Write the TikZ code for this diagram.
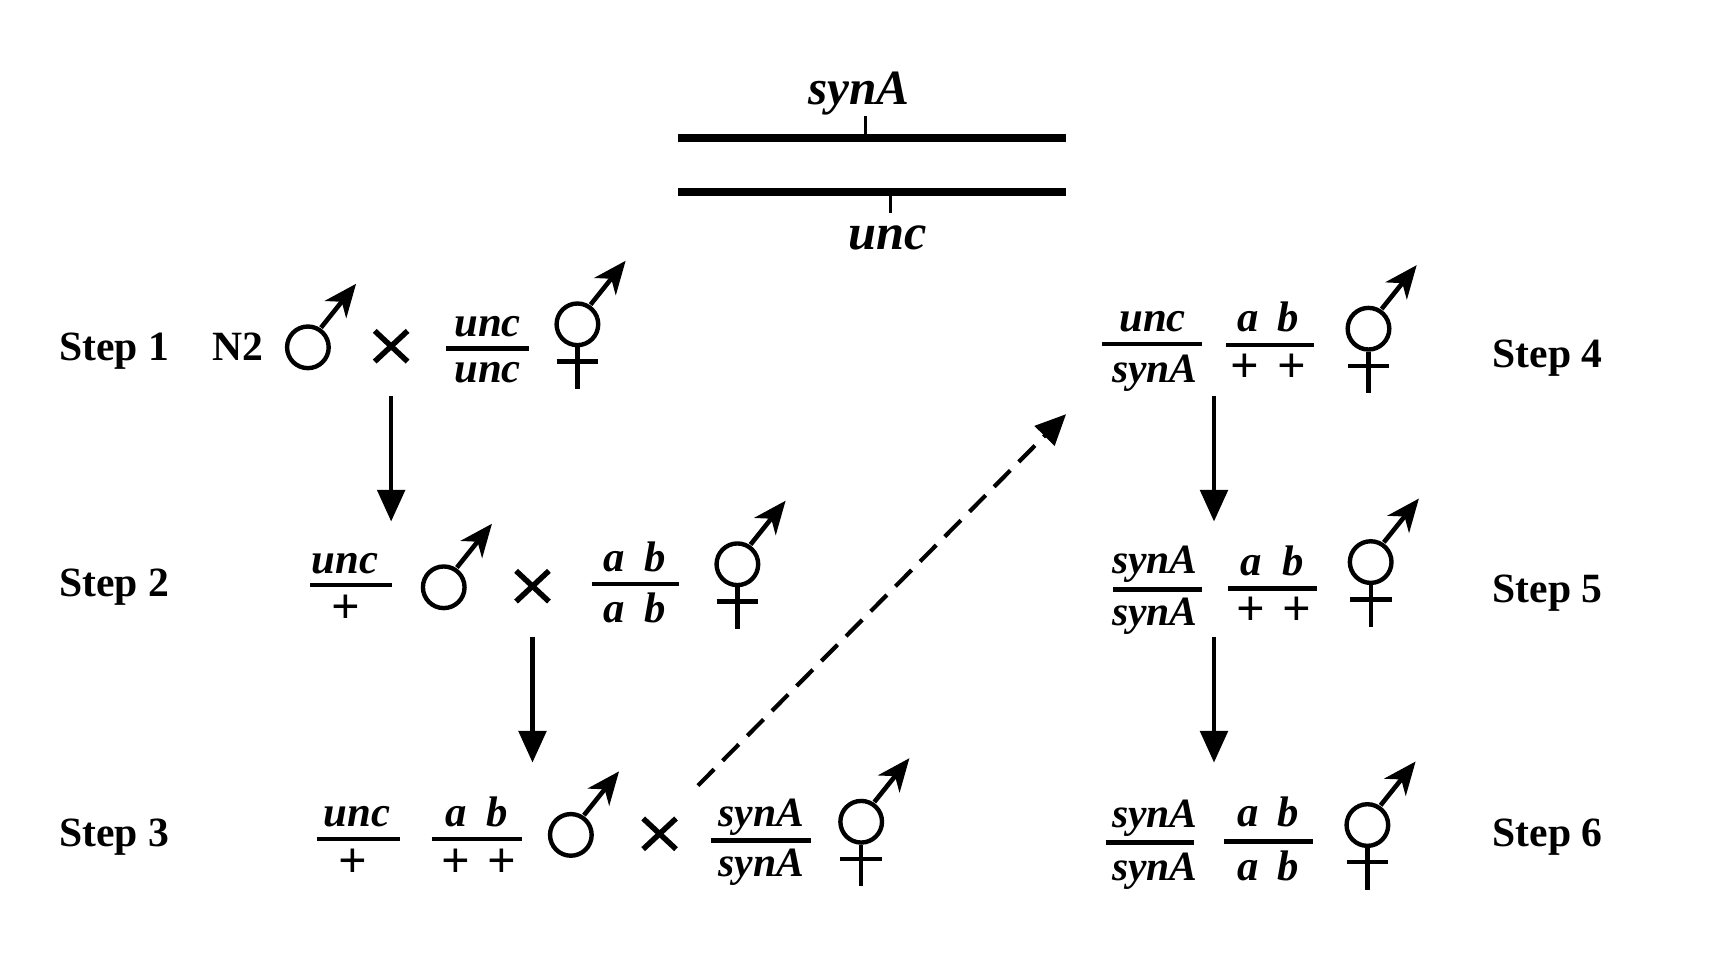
\documentclass[tikz,border=0pt]{standalone}
\usepackage{fontspec}
\setmainfont{Liberation Serif}
\usetikzlibrary{arrows.meta}
\tikzset{
  gene/.style={font=\fontsize{39}{41}\selectfont\bfseries\itshape,anchor=base,inner sep=0pt,text=black},
  genesyn/.style={font=\fontsize{38}{40}\selectfont\bfseries\itshape,anchor=base,inner sep=0pt,text=black},
  bigene/.style={font=\fontsize{46}{48}\selectfont\bfseries\itshape,anchor=base,inner sep=0pt,text=black},
  bigsyn/.style={font=\fontsize{45}{47}\selectfont\bfseries\itshape,anchor=base,inner sep=0pt,text=black},
  plusn/.style={font=\fontsize{46}{48}\selectfont\bfseries,anchor=base,inner sep=0pt,text=black},
  steplabel/.style={font=\fontsize{38}{40}\selectfont\bfseries,anchor=base west,inner sep=0pt,text=black},
  bar/.style={line width=4pt},
  chrom/.style={line width=7pt},
  locus/.style={line width=3pt},
  ring/.style={circle,draw,line width=4pt,minimum size=38pt,inner sep=0pt},
  sexarrow/.style={line width=4.2pt,-{Stealth[length=30pt,width=25pt,inset=9pt]}},
  sexline/.style={line width=4pt},
  crossline/.style={line width=5pt},
  flow/.style={line width=4.2pt,-{Triangle[length=29pt,width=25pt]}},
  dashflow/.style={line width=3.8pt,dash pattern=on 21pt off 11pt,-{Triangle[length=28pt,width=25pt]}},
}
\newcommand{\malesym}[3]{%
  \node[ring] (#1) at (#2,#3) {};
  \coordinate (#1tip) at ({#2+44},{#3-58});
  \coordinate (#1st) at ({#2+12},{#3-18});
  \draw[sexarrow] (#1st) -- (#1tip);
}
\newcommand{\hermsym}[3]{%
  \malesym{#1}{#2}{#3}
  \coordinate (#1end) at (#2,{#3+59});
  \draw[sexline] (#1.south) -- (#1end);
  \draw[sexline] ({#2-19},{#3+34}) -- ({#2+19},{#3+34});
}
\newcommand{\crosssym}[2]{%
  \draw[crossline] ({#1-15},{#2-14}) -- ({#1+15},{#2+14});
  \draw[crossline] ({#1-15},{#2+14}) -- ({#1+15},{#2-14});
}
\begin{document}
\begin{tikzpicture}[x=1pt,y=-1pt]
\useasboundingbox (0,0) rectangle (1568,885.2);
% chromosomes
\draw[chrom] (619,126) -- (973,126);
\draw[chrom] (619,175) -- (973,175);
\draw[locus] (790,106) -- (790,126);
\draw[locus] (813,175) -- (813,194);
\node[bigsyn] (lsyn) at (784,95) {synA};
\node[bigene] (lunc) at (810,228) {unc};
% step labels
\node[steplabel] (s1) at (54,329) {Step 1};
\node[steplabel] (s2) at (54,544) {Step 2};
\node[steplabel] (s3) at (54,773) {Step 3};
\node[steplabel] (s4) at (1362,335) {Step 4};
\node[steplabel] (s5) at (1362,550) {Step 5};
\node[steplabel] (s6) at (1362,773) {Step 6};
% step 1
\node[steplabel] (n2) at (194,329) {N2};
\malesym{ma}{281}{317}
\crosssym{357}{316}
\draw[bar] (407,318) -- (483,318);
\node[gene] (a1) at (445,307) {unc};
\node[gene] (a2) at (445,349) {unc};
\hermsym{ha}{527}{296}
% step 2
\draw[bar] (283,534) -- (358,534);
\node[gene] (b1) at (315,523) {unc};
\node[plusn] (b2) at (316,569) {+};
\malesym{mb}{405}{536}
\crosssym{486}{535}
\draw[bar] (540,533) -- (620,533);
\node[gene] (b3) at (561,522) {a};
\node[gene] (b4) at (598,522) {b};
\node[gene] (b5) at (561,568) {a};
\node[gene] (b6) at (598,568) {b};
\hermsym{hb}{673}{515}
% step 3
\draw[bar] (289,766) -- (365,766);
\node[gene] (c1) at (326,754) {unc};
\node[plusn] (c2) at (322,801) {+};
\draw[bar] (394,766) -- (476,766);
\node[gene] (c3) at (416,754) {a};
\node[gene] (c4) at (454,754) {b};
\node[plusn] (c5) at (416,801) {+};
\node[plusn] (c6) at (458,801) {+};
\malesym{mc}{521}{762}
\crosssym{602}{761}
\draw[bar] (649,767) -- (740,767);
\node[genesyn] (c7) at (695,754) {synA};
\node[genesyn] (c8) at (695,800) {synA};
\hermsym{hc}{786}{750}
% step 4
\draw[bar] (1006,314) -- (1097,314);
\node[gene] (d1) at (1052,303) {unc};
\node[genesyn] (d2) at (1054,349) {synA};
\draw[bar] (1119,315) -- (1199,315);
\node[gene] (d3) at (1139,303) {a};
\node[gene] (d4) at (1176,303) {b};
\node[plusn] (d5) at (1136,349) {+};
\node[plusn] (d6) at (1179,349) {+};
\hermsym{hd}{1249}{300}
% step 5
\draw[bar] (1016,538) -- (1097,538);
\node[genesyn] (e1) at (1054,523) {synA};
\node[genesyn] (e2) at (1054,571) {synA};
\draw[bar] (1121,537) -- (1202,537);
\node[gene] (e3) at (1142,525) {a};
\node[gene] (e4) at (1180,525) {b};
\node[plusn] (e5) at (1142,571) {+};
\node[plusn] (e6) at (1184,571) {+};
\hermsym{he}{1251}{513}
% step 6
\draw[bar] (1009,769) -- (1090,769);
\node[genesyn] (f1) at (1054,755) {synA};
\node[genesyn] (f2) at (1054,804) {synA};
\draw[bar] (1117,768) -- (1198,768);
\node[gene] (f3) at (1139,754) {a};
\node[gene] (f4) at (1176,754) {b};
\node[gene] (f5) at (1139,804) {a};
\node[gene] (f6) at (1176,804) {b};
\hermsym{hf}{1248}{753}
% connectors
\coordinate (p1) at (357,361); \coordinate (q1) at (357,476);
\coordinate (p2) at (486,581); \coordinate (q2) at (486,696);
\coordinate (p3) at (1108,361); \coordinate (q3) at (1108,476);
\coordinate (p4) at (1108,581); \coordinate (q4) at (1108,696);
\coordinate (p5) at (637,717); \coordinate (q5) at (973,378);
\draw[flow] (p1) -- (q1);
\draw[flow] (p2) -- (q2);
\draw[flow] (p3) -- (q3);
\draw[flow] (p4) -- (q4);
\draw[dashflow] (p5) -- (q5);
\end{tikzpicture}
\end{document}
